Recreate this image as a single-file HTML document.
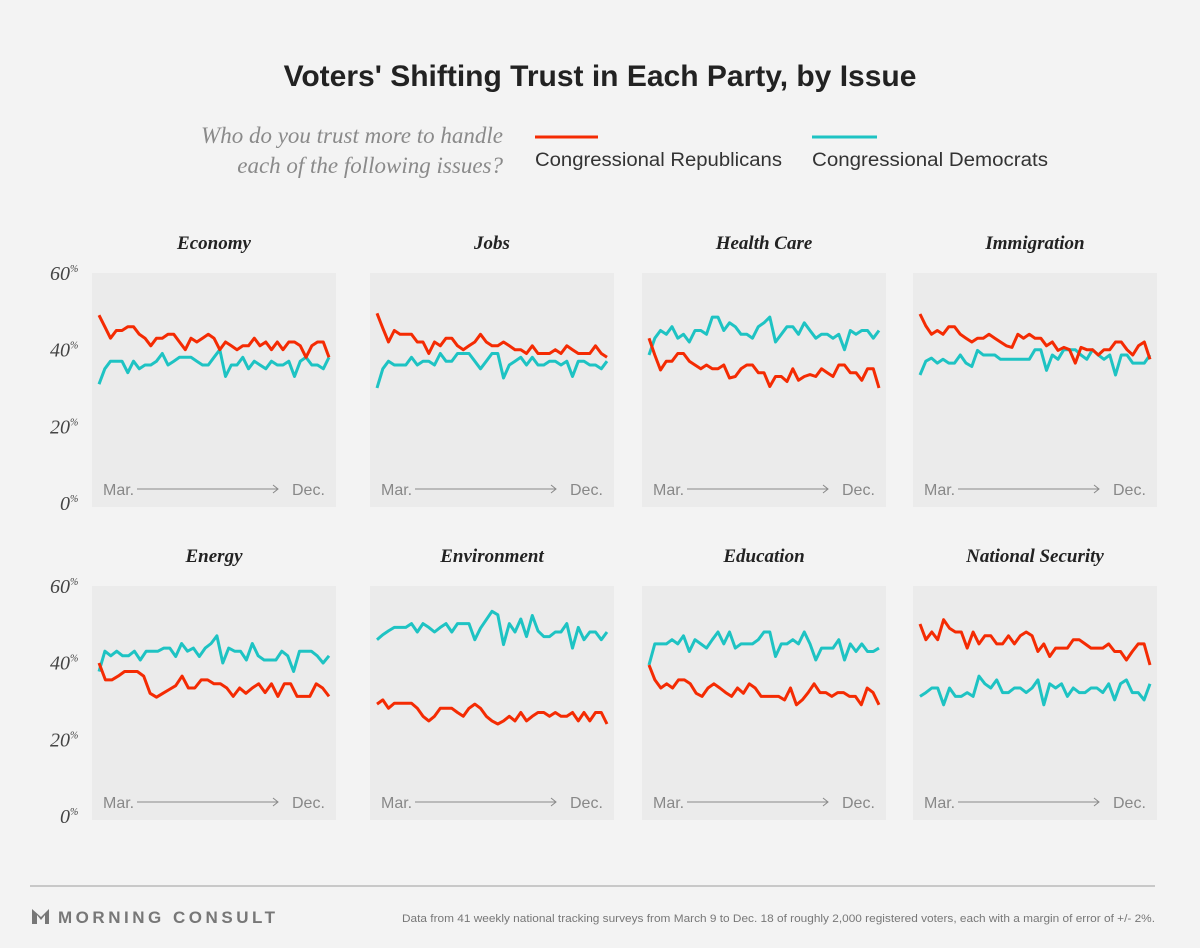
<!DOCTYPE html>
<html><head><meta charset="utf-8"><style>
html,body{margin:0;padding:0;background:#f3f3f3;}
svg{display:block;}
.t{font-family:"Liberation Sans",sans-serif;}
.s{font-family:"Liberation Serif",serif;}
</style></head><body>
<svg id="chart" width="1200" height="948" viewBox="0 0 1200 948" xmlns="http://www.w3.org/2000/svg">
<rect width="1200" height="948" fill="#f3f3f3"/>
<text x="600" y="86" text-anchor="middle" class="t" font-size="30" font-weight="bold" fill="#222">Voters' Shifting Trust in Each Party, by Issue</text>
<text x="503" y="143" text-anchor="end" class="s" font-style="italic" font-size="23" fill="#8a8a8a">Who do you trust more to handle</text>
<text x="503" y="173" text-anchor="end" class="s" font-style="italic" font-size="23" fill="#8a8a8a">each of the following issues?</text>
<g>
<line x1="535" y1="137" x2="598" y2="137" stroke="#f42b03" stroke-width="3"/>
<text x="535" y="166" class="t" font-size="19" fill="#333" textLength="247" lengthAdjust="spacingAndGlyphs">Congressional Republicans</text>
</g>
<g>
<line x1="812" y1="137" x2="877" y2="137" stroke="#1ec3c3" stroke-width="3"/>
<text x="812" y="166" class="t" font-size="19" fill="#333" textLength="236" lengthAdjust="spacingAndGlyphs">Congressional Democrats</text>
</g>
<g id="panels"></g>
<line x1="30" y1="886" x2="1155" y2="886" stroke="#c8c8c8" stroke-width="2"/>
<g>
<path d="M32 909 L32 924 L37 924 L37 915 L41 920 L45 915 L45 924 L49 924 L49 909 L41 917 Z" fill="#777"/>
<text x="58" y="923" class="t" font-size="17" font-weight="bold" fill="#777" textLength="217" lengthAdjust="spacing">MORNING CONSULT</text>
</g>
<text x="402" y="922" class="t" font-size="11" fill="#777" textLength="753" lengthAdjust="spacingAndGlyphs">Data from 41 weekly national tracking surveys from March 9 to Dec. 18 of roughly 2,000 registered voters, each with a margin of error of +/- 2%.</text>
</svg>
<script>
const issues = ["Economy","Jobs","Health Care","Immigration","Energy","Environment","Education","National Security"];
const yTicks = [0,20,40,60];
const repEconomy = [49,46,43,45,45,46,46,44,43,41,43,43,44,44,42,40,43,42,43,44,43,40,42,41,40,41,41,43,41,42,40,42,40,42,42,41,38,41,42,42,38];
const demEconomy = [31,35,37,37,37,34,37,35,36,36,37,39,36,37,38,38,38,37,36,36,38,40,33,36,36,38,35,37,36,35,37,36,36,37,33,37,38,36,36,35,38];
const repJobs = [49.5,45.6,42,45,44,44,44,42,42,39,42,41,43,43,41,40,41,42,44,42,41,41,42,41,40,40,39,41,39,39,39,40,39,41,40,39,39,39,41,39,38];
const demJobs = [30,35,37,36,36,36,38,36,37,37,36,39,37,37,39,39,39,37,35,37,39,39,32.6,36,37,38,36,38,36,36,37,37,36,37,33,37,37,36,36,35,37];
const repHealth = [43,38.6,34.7,37,37,39,39,37,36,35,36,35,35,36,32.6,33,35,36,36,34,34,30.4,33,33,31.7,35,32,33,33.5,33,35,34,33,36,36,34,34,32,35,35,30];
const demHealth = [38.6,43,45,44,46,43,44,42,45,45,44,48.5,48.5,45,47,46,44,44,43,46,47,48.5,42,44,46,46,44,47,45,43,44,44,43,44,40,45,44,45,45,43,45];
const repImmig = [49.3,46.2,44,45,44,46,46,44,43,42,43,43,44,43,42,41,40.6,44,43,44,43,43,41,42,39.8,40.6,40,36.5,40.6,40,40,38.6,40,40,42,42,40,38.6,41,42,37.5];
const demImmig = [33.4,37,37.8,36.5,37.5,36.5,36.5,38.6,36.5,35.6,39.8,38.6,38.6,38.6,37.5,37.5,37.5,37.5,37.5,37.5,40,40,34.6,38.6,37.5,40,40,40,38.6,37.5,40,38.6,37.5,38.6,33.4,38.6,38.6,36.5,36.5,36.5,38.6];
const repEnergy = [39.9,35.5,35.5,36.5,37.7,37.7,37.7,36.5,32,31,32,33,34,36.5,33.4,33.4,35.5,35.5,34.5,34.5,33.4,31.2,33.4,32,33.4,34.5,32.2,34.5,31.2,34.5,34.5,31.2,31.2,31.2,34.5,33.4,31.2];
const demEnergy = [37.7,43,41.8,43,41.8,41.8,43,40.7,43,43,43,43.8,43.8,41.6,45,43,43.8,41.6,43.8,45,47,39.9,43.8,43,43,40.7,45,41.8,40.7,40.7,40.7,43,41.8,37.7,43,43,43,41.8,39.9,41.8];
const repEnv = [29.2,30.3,28.1,29.4,29.4,29.4,29.4,28.1,26,24.8,26,28.1,28.1,28.1,27,26,28.1,29.2,28.1,26,24.8,24,24.8,26,24.8,27,24.8,26,27,27,26,27,26,26,27,24.8,27,24.8,27,27,24];
const demEnv = [46,47.3,48.3,49.2,49.2,49.2,50.2,48,50.2,49.2,48,49.2,50.2,48,50.2,50.2,50.2,46,49,51.2,53.4,52.5,44.7,50.2,48,51.4,46.8,52.3,48.3,46.8,46.8,48,48,50.2,43.8,49.2,46,48,48,46,48];
const repEdu = [39.4,35.5,33.4,34.5,33.4,35.5,35.5,34.5,32,31.2,33.4,34.5,33.4,32.2,31.2,33.4,32,34.5,33.4,31.2,31.2,31.2,31.2,30.3,33.4,29,30.3,32.2,34.5,32.2,32.2,31.2,32.2,32.2,31.2,31.2,29,33.4,32.2,29];
const demEdu = [39.4,44.9,44.9,44.9,46,44.9,47,42.9,46,44.9,43.8,46,48,44.9,48,43.8,44.9,44.9,44.9,46,48,48,41.6,44.9,44.9,46,44.9,48,44.9,40.7,43.8,43.8,43.8,46,40.7,44.9,42.9,44.9,42.9,42.9,43.8];
const repSec = [50.1,46,48,46,51.2,49,48,48,43.8,48,44.9,47,47,44.9,44.9,47,44.9,47,48,47,42.9,44.9,41.6,43.8,43.8,43.8,46,46,44.9,43.8,43.8,43.8,44.9,42.9,42.9,40.7,42.9,44.9,44.9,39.4];
const demSec = [31.2,32.2,33.4,33.4,29,33.4,31.2,31.2,32.2,31.2,36.5,34.5,33.4,35.5,32.2,32.2,33.4,33.4,32.2,33.4,35.5,29,34.5,33.4,34.5,31.2,33.4,32.2,32.2,33.4,33.4,32.2,34.5,30.3,34.5,35.5,32.2,32.2,30.3,34.5];
const repSeries = [repEconomy,repJobs,repHealth,repImmig,repEnergy,repEnv,repEdu,repSec];
const demSeries = [demEconomy,demJobs,demHealth,demImmig,demEnergy,demEnv,demEdu,demSec];

const NS = "http://www.w3.org/2000/svg";
const colX = [92,370,642,913];
const rowTop = [273,586];
const panelW = 244, panelH = 234, plotH = 230;
function mk(tag, attrs, parent){const e=document.createElementNS(NS,tag);for(const k in attrs)e.setAttribute(k,attrs[k]);parent.appendChild(e);return e;}
const root = document.getElementById("panels");
issues.forEach((name,i)=>{
  const px = colX[i%4], top = rowTop[Math.floor(i/4)];
  const yScale = v => top + plotH - v/60*plotH;
  const slug = name.toLowerCase().replace(/\s+/g,'-');
  const g = mk("g",{},root);
  
  
  const bg = mk("rect",{x:px,y:top,width:panelW,height:panelH,fill:"#ebebeb"},g);
  
  
  const t = mk("text",{x:px+panelW/2,y:top-24,"text-anchor":"middle","class":"s","font-size":"19","font-weight":"bold","font-style":"italic",fill:"#222"},g);
  t.textContent = name;
  
  
  if (i%4===0) {
    yTicks.forEach(v=>{
      const tx = mk("text",{x:px-22,y:yScale(v)+7,"text-anchor":"end","class":"s","font-size":"20","font-style":"italic",fill:"#444"},g);
      tx.textContent = v;
      
      
      const pc = mk("text",{x:px-22,y:yScale(v)-1,"class":"s","font-size":"10","font-style":"italic",fill:"#444"},g);
      pc.textContent = "%";
      
      
    });
  }
  const ay = top + 222;
  const m = mk("text",{x:px+11,y:ay,"class":"t","font-size":"16",fill:"#888"},g);
  m.textContent = "Mar.";
  
  
  const d = mk("text",{x:px+200,y:ay,"class":"t","font-size":"16",fill:"#888"},g);
  d.textContent = "Dec.";
  
  
  const ar = mk("path",{d:`M${px+45} ${ay-6} H${px+186} M${px+181} ${ay-10} L${px+186} ${ay-6} L${px+181} ${ay-2}`,stroke:"#888","stroke-width":"1",fill:"none"},g);
  
  
  [[demSeries[i],"#1ec3c3","democrats-line"],[repSeries[i],"#f42b03","republicans-line"]].forEach(([arr,col,nm])=>{
    const xScale = k => px + 7 + k*(230/(arr.length-1));
    const pts = arr.map((v,k)=>xScale(k).toFixed(1)+","+yScale(v).toFixed(1)).join(" ");
    const pl = mk("polyline",{points:pts,fill:"none",stroke:col,"stroke-width":"3","stroke-linejoin":"round"},g);
    
    
  });
});
</script>
</body></html>
